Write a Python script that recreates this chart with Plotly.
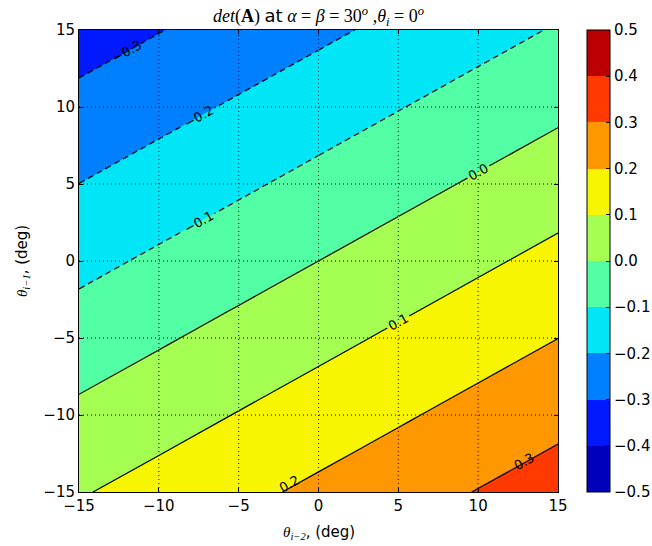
import plotly.graph_objects as go

# ---- data ----
x_deg = [-15, -10, -5, 0, 5, 10, 15]          # theta_{i-2}
y_deg = [-15, -10, -5, 0, 5, 10, 15]          # theta_{i-1}
det_a = [                                      # rows follow y_deg
    [0.0926, 0.1347, 0.1769, 0.2191, 0.2612, 0.3034, 0.3455],
    [0.0196, 0.0617, 0.1039, 0.1460, 0.1882, 0.2304, 0.2725],
    [-0.0535, -0.0113, 0.0309, 0.0730, 0.1152, 0.1573, 0.1995],
    [-0.1265, -0.0843, -0.0422, 0.0, 0.0422, 0.0843, 0.1265],
    [-0.1995, -0.1573, -0.1152, -0.0730, -0.0309, 0.0113, 0.0535],
    [-0.2725, -0.2304, -0.1882, -0.1460, -0.1039, -0.0617, -0.0196],
    [-0.3455, -0.3034, -0.2612, -0.2191, -0.1769, -0.1347, -0.0926],
]
levels = [-0.5, -0.4, -0.3, -0.2, -0.1, 0.0, 0.1, 0.2, 0.3, 0.4, 0.5]
band_colors = ['#0000BA', '#0019FF', '#0080FF', '#00E6F7', '#52FFA4',
               '#A4FF52', '#F7F500', '#FF9700', '#FF3900', '#BA0000']
axis_ticks = [-15, -10, -5, 0, 5, 10, 15]
line_levels = [-0.3, -0.2, -0.1, 0.0, 0.1, 0.2, 0.3]
line_texts = ['−0.3', '−0.2', '−0.1', '−0.0', '0.1', '0.2', '0.3']

SANS = 'DejaVu Sans'
SERIF = 'Liberation Serif'

W, H = 652, 546
L, R, T, B = 79, 94, 30, 54
PW, PH = W - L - R, H - T - B

fig = go.Figure()

# filled bands
fig.add_trace(go.Contour(
    x=x_deg, y=y_deg, z=det_a,
    autocontour=False,
    contours=dict(start=levels[1], end=levels[-2], size=0.1,
                  coloring='fill', showlines=False),
    colorscale=[[i / (len(band_colors) - 1), c] for i, c in enumerate(band_colors)],
    line=dict(width=0), showscale=False, hoverinfo='skip'))

lab_font = dict(family=SANS, size=13, color='black')


def contour_line(level, c0, c1, labels):
    """one contour level drawn on the grid columns c0..c1"""
    lv = level if level != 0 else -1e-12
    xs = x_deg[c0:c1 + 1]
    zs = [row[c0:c1 + 1] for row in det_a]
    fig.add_trace(go.Contour(
        x=xs, y=y_deg, z=zs, autocontour=False,
        contours=dict(start=lv, end=lv, size=0.1, coloring='none',
                      showlabels=labels, labelfont=lab_font, labelformat='.1f'),
        line=dict(color='black', width=1.2,
                  dash='6px,4px' if level < 0 else 'solid'),
        showscale=False, hoverinfo='skip'))


last = len(x_deg) - 1
# levels whose labels the library places (label part + remainder)
split = {-0.2: ((0, 3), (3, last)),
         -0.1: ((0, 3), (3, last)),
         0.0: ((4, last), (0, 4)),
         0.1: ((2, last), (0, 2))}
annotated = {}
for lv, txt in zip(line_levels, line_texts):
    if lv in split:
        (a0, a1), (b0, b1) = split[lv]
        contour_line(lv, a0, a1, True)
        contour_line(lv, b0, b1, False)
    else:
        contour_line(lv, 0, last, False)
        annotated[lv] = txt

# inline labels for the short lines (positions)
label_pos = {-0.3: (-12.0, 13.6), 0.2: (-1.8, -14.45), 0.3: (12.9, -13.05)}
annos = []
for lv, txt in annotated.items():
    lx, ly = label_pos[lv]
    annos.append(dict(text=txt, x=lx, y=ly, xref='x', yref='y', showarrow=False,
                      textangle=-29, font=lab_font, xanchor='center', yanchor='middle'))

# colorbar via a hidden scatter
n = len(band_colors)
step_scale = []
for i, c in enumerate(band_colors):
    step_scale.append([i / n, c])
    step_scale.append([(i + 1) / n, c])
fig.add_trace(go.Scatter(
    x=[None], y=[None], mode='markers', showlegend=False, hoverinfo='skip',
    marker=dict(color=[levels[0], levels[-1]], cmin=levels[0], cmax=levels[-1],
                colorscale=step_scale, showscale=True,
                colorbar=dict(
                    x=(587 - L) / PW, xanchor='left', xpad=0, y=0.5, yanchor='middle',
                    ypad=0, len=1, lenmode='fraction', thickness=23,
                    outlinewidth=1, outlinecolor='black',
                    tickvals=levels, tickformat='.1f', ticks='inside',
                    ticklen=4, tickcolor='black',
                    tickfont=dict(family=SANS, size=15, color='black')))))

# dotted grid drawn above the fill
for t in axis_ticks[1:-1]:
    fig.add_shape(type='line', xref='x', yref='paper', x0=t, x1=t, y0=0, y1=1,
                  line=dict(color='black', width=1, dash='1px,3px'), layer='above')
    fig.add_shape(type='line', xref='paper', yref='y', x0=0, x1=1, y0=t, y1=t,
                  line=dict(color='black', width=1, dash='1px,3px'), layer='above')

axis_common = dict(showline=True, linecolor='black', linewidth=1, mirror='ticks',
                   ticks='inside', ticklen=4, tickcolor='black', showgrid=False,
                   zeroline=False, tickvals=axis_ticks, tickformat='d',
                   tickfont=dict(family=SANS, size=15, color='black'),
                   range=[axis_ticks[0], axis_ticks[-1]])
fig.update_xaxes(**axis_common)
fig.update_yaxes(**axis_common)

title_txt = ('<i>det</i>(<b>A</b>) <span style="font-family:DejaVu Sans">at</span> '
             '<i>α</i> = <i>β</i> = 30<sup><i>o</i></sup> ,<i>θ<sub>i</sub></i> = 0<sup><i>o</i></sup>')
annos += [
    dict(text='<i>θ<sub>i−2</sub></i><span style="font-family:DejaVu Sans">, (deg)</span>',
         xref='paper', yref='paper', x=0.5, y=(PH + T - 532) / PH,
         xanchor='center', yanchor='middle', showarrow=False,
         font=dict(family=SERIF, size=15, color='black')),
    dict(text='<i>θ<sub>i−1</sub></i><span style="font-family:DejaVu Sans">, (deg)</span>',
         xref='paper', yref='paper', x=(22 - L) / PW, y=0.5,
         xanchor='center', yanchor='middle', showarrow=False, textangle=-90,
         font=dict(family=SERIF, size=15, color='black')),
]
fig.update_layout(
    width=W, height=H,
    margin=dict(l=L, r=R, t=T, b=B, autoexpand=False),
    paper_bgcolor='white', plot_bgcolor='white',
    showlegend=False,
    title=dict(text=title_txt, x=(L + PW / 2) / W, xanchor='center',
               y=1 - 16 / H, yanchor='middle',
               font=dict(family=SERIF, size=18, color='black')),
    annotations=annos,
)

# remove the browser's default page margin so the figure fills the window
fig.write_html('out.html',
               config={'displayModeBar': False, 'staticPlot': True},
               post_script="document.body.style.margin='0';"
                           "document.body.style.overflow='hidden';")
